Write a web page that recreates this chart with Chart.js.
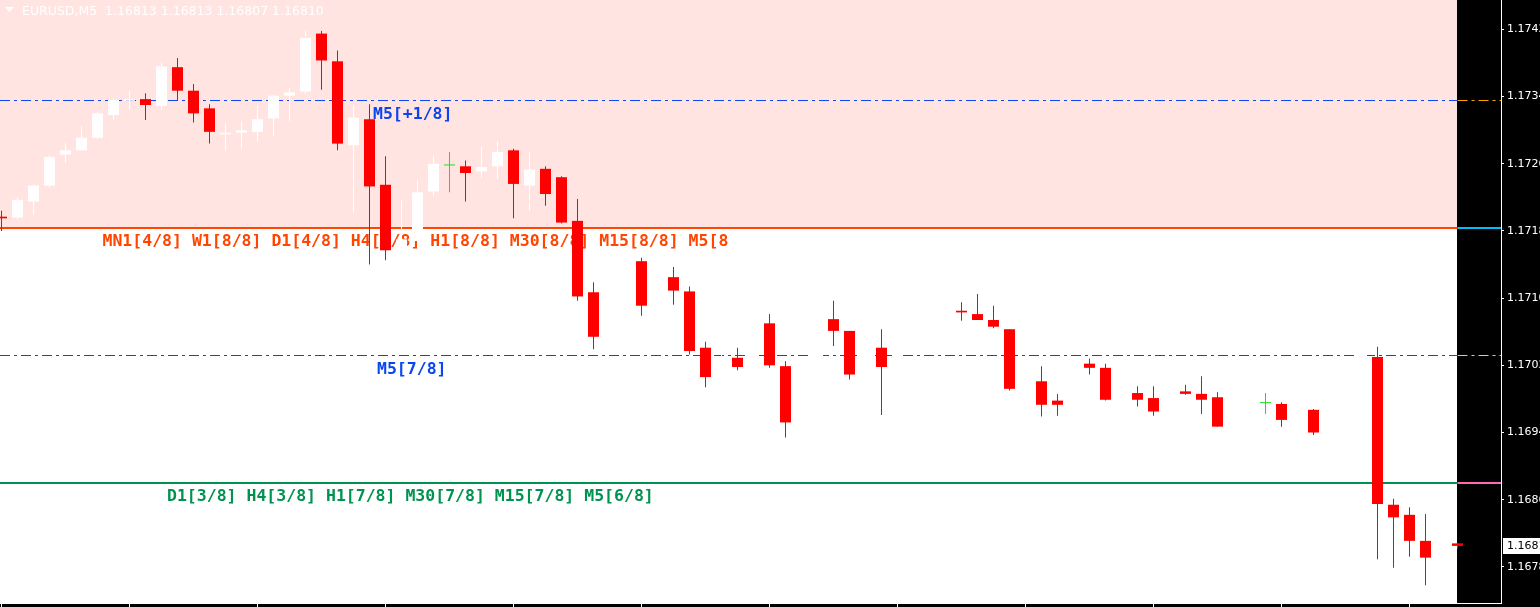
<!DOCTYPE html>
<html>
<head>
<meta charset="utf-8">
<title>EURUSD,M5</title>
<script src="https://cdn.jsdelivr.net/npm/chart.js@4.4.1/dist/chart.umd.min.js"></script>
<style>
  html, body { margin: 0; padding: 0; background: #ffffff; overflow: hidden; }
  #wrap { position: relative; width: 1540px; height: 607px; }
</style>
</head>
<body>
<div id="wrap"><canvas id="chart"></canvas></div>
<script>
const SYMBOL = "EURUSD,M5";

// M5 bars, oldest first
const barOpen = [
  1.17202, 1.17201, 1.17220, 1.17239, 1.17276, 1.17281, 1.17296, 1.17323, 1.17340, 1.17342,
  1.17334, 1.17380, 1.17352, 1.17331, 1.17300, 1.17302, 1.17303, 1.17319, 1.17346, 1.17351,
  1.17420, 1.17387, 1.17287, 1.17318, 1.17240, 1.17166, 1.17173, 1.17232, 1.17263, 1.17262,
  1.17256, 1.17262, 1.17281, 1.17239, 1.17259, 1.17249, 1.17197, 1.17112, 1.17060, 1.17103,
  1.17149, 1.17097, 1.17130, 1.17113, 1.17046, 1.17012, 1.17034, 1.17024, 1.17075, 1.17024,
  1.16958, 1.17008, 1.17080, 1.17066, 1.17015, 1.17046, 1.17023, 1.17043, 1.17058, 1.17077,
  1.17090, 1.17086, 1.17079, 1.17068, 1.16998, 1.17006, 1.16983, 1.16979, 1.17027, 1.17022,
  1.16984, 1.16992, 1.16986, 1.16971, 1.16994, 1.16991, 1.16987, 1.16953, 1.16972, 1.16980,
  1.16979, 1.16960, 1.16972, 1.16944, 1.16972, 1.17002, 1.17035, 1.16859, 1.16847, 1.16816,
  1.16796, 1.16813
];
const barHigh = [
  1.17209, 1.17225, 1.17240, 1.17275, 1.17290, 1.17310, 1.17327, 1.17343, 1.17352, 1.17349,
  1.17386, 1.17391, 1.17360, 1.17336, 1.17313, 1.17316, 1.17335, 1.17347, 1.17355, 1.17423,
  1.17423, 1.17400, 1.17335, 1.17336, 1.17274, 1.17221, 1.17246, 1.17274, 1.17279, 1.17269,
  1.17286, 1.17292, 1.17283, 1.17279, 1.17262, 1.17250, 1.17223, 1.17124, 1.17109, 1.17153,
  1.17153, 1.17136, 1.17142, 1.17119, 1.17053, 1.17041, 1.17046, 1.17081, 1.17086, 1.17030,
  1.17013, 1.17085, 1.17102, 1.17066, 1.17055, 1.17068, 1.17049, 1.17064, 1.17084, 1.17097,
  1.17100, 1.17110, 1.17096, 1.17068, 1.17012, 1.17024, 1.16991, 1.17031, 1.17033, 1.17027,
  1.16997, 1.17000, 1.17000, 1.16998, 1.17002, 1.17012, 1.16993, 1.16977, 1.16985, 1.16992,
  1.16981, 1.16977, 1.16973, 1.16978, 1.17008, 1.17048, 1.17047, 1.16866, 1.16856, 1.16848,
  1.16817, 1.16813
];
const barLow = [
  1.17185, 1.17199, 1.17205, 1.17237, 1.17266, 1.17281, 1.17295, 1.17317, 1.17329, 1.17317,
  1.17329, 1.17341, 1.17314, 1.17289, 1.17281, 1.17283, 1.17291, 1.17298, 1.17316, 1.17348,
  1.17353, 1.17281, 1.17207, 1.17145, 1.17150, 1.17162, 1.17167, 1.17227, 1.17231, 1.17220,
  1.17248, 1.17247, 1.17200, 1.17209, 1.17215, 1.17194, 1.17102, 1.17044, 1.17049, 1.17097,
  1.17084, 1.17091, 1.17097, 1.17038, 1.16999, 1.17008, 1.17019, 1.17019, 1.17022, 1.16939,
  1.16950, 1.17003, 1.17048, 1.17008, 1.17010, 1.16966, 1.17017, 1.17039, 1.17053, 1.17072,
  1.17078, 1.17079, 1.17069, 1.16995, 1.16993, 1.16964, 1.16965, 1.16974, 1.17014, 1.16983,
  1.16979, 1.16976, 1.16965, 1.16967, 1.16990, 1.16967, 1.16952, 1.16948, 1.16967, 1.16967,
  1.16952, 1.16955, 1.16942, 1.16940, 1.16967, 1.16997, 1.16794, 1.16784, 1.16797, 1.16763,
  1.16791, 1.16807
];
const barClose = [
  1.17200, 1.17222, 1.17239, 1.17273, 1.17281, 1.17296, 1.17325, 1.17341, 1.17342, 1.17335,
  1.17381, 1.17352, 1.17325, 1.17303, 1.17302, 1.17305, 1.17318, 1.17346, 1.17350, 1.17415,
  1.17388, 1.17289, 1.17320, 1.17238, 1.17162, 1.17175, 1.17231, 1.17265, 1.17263, 1.17254,
  1.17261, 1.17279, 1.17241, 1.17258, 1.17229, 1.17195, 1.17107, 1.17059, 1.17103, 1.17148,
  1.17096, 1.17130, 1.17114, 1.17042, 1.17011, 1.17034, 1.17023, 1.17075, 1.17025, 1.16957,
  1.17008, 1.17079, 1.17066, 1.17014, 1.17046, 1.17023, 1.17043, 1.17058, 1.17077, 1.17090,
  1.17088, 1.17079, 1.17071, 1.16997, 1.17006, 1.16978, 1.16978, 1.17027, 1.17022, 1.16984,
  1.16992, 1.16984, 1.16970, 1.16994, 1.16991, 1.16984, 1.16952, 1.16972, 1.16980, 1.16980,
  1.16960, 1.16972, 1.16945, 1.16972, 1.17002, 1.17043, 1.16860, 1.16844, 1.16816, 1.16796,
  1.16813, 1.16810
];

// price scale labels and time separators (bar index)
const priceTicks = [1.17425, 1.17345, 1.17265, 1.17185, 1.17105, 1.17025, 1.16945, 1.16865, 1.16785];
const timeTicks = [0, 8, 16, 24, 32, 40, 48, 56, 64, 72, 80, 88];

// Murrey levels of the M5 frame and their labels
const levelValues = [1.173403, 1.171885, 1.170367, 1.168849];
const levelLabels = [
  "M5[+1/8]",
  "MN1[4/8] W1[8/8] D1[4/8] H4[8/8] H1[8/8] M30[8/8] M15[8/8] M5[8",
  "M5[7/8]",
  "D1[3/8] H4[3/8] H1[7/8] M30[7/8] M15[7/8] M5[6/8]"
];

// styles
const COLOR_UP = "#ffffff";
const COLOR_DOWN = "#ff0000";
const COLOR_DOJI = "#1fdf1f";
const PINK = "#ffe4e1";
const DASH_DOT = [10, 4, 3, 4];
const levelStyle = [
  { left: "#0a46f0", right: "#ffa500", width: 1, dash: DASH_DOT, textX: 373 },
  { left: "#ff4500", right: "#00bfff", width: 2, dash: [], textX: 102.5 },
  { left: "#0a46f0", right: "#ffd700", width: 1, dash: DASH_DOT, textX: 377 },
  { left: "#00924f", right: "#ff69b4", width: 2, dash: [], textX: 167 }
];

const lastIndex = barClose.length - 1;
const xMin = -0.09375;
const xMax = 93.71875;

const candleColors = barClose.map((c, i) => {
  if (c > barOpen[i]) return COLOR_UP;
  if (c < barOpen[i]) return COLOR_DOWN;
  return COLOR_DOJI;
});

const levelDatasets = [];
levelValues.forEach((lv, i) => {
  const st = levelStyle[i];
  levelDatasets.push({
    type: "line", order: 3,
    data: [{ x: xMin, y: lv }, { x: lastIndex, y: lv }],
    borderColor: st.left, borderWidth: st.width, borderDash: st.dash,
    pointRadius: 0, fill: false
  });
  levelDatasets.push({
    type: "line", order: 3,
    data: [{ x: lastIndex, y: lv }, { x: xMax, y: lv }],
    borderColor: st.right, borderWidth: st.width, borderDash: st.dash,
    pointRadius: 0, fill: false
  });
});

const chartDecor = {
  id: "chartDecor",
  beforeDraw(chart) {
    const { ctx, chartArea, scales } = chart;
    const shiftX = Math.floor(scales.x.getPixelForValue(lastIndex));
    const zoneBottom = Math.round(scales.y.getPixelForValue(levelValues[1]));
    ctx.save();
    ctx.fillStyle = "#ffffff";
    ctx.fillRect(0, 0, chart.width, chart.height);
    ctx.fillStyle = PINK;
    ctx.fillRect(chartArea.left, 0, shiftX - chartArea.left, zoneBottom);
    ctx.fillStyle = "#000000";
    ctx.fillRect(shiftX, 0, chart.width - shiftX, chart.height);
    ctx.fillRect(0, chartArea.bottom + 1, chart.width, chart.height - chartArea.bottom);
    ctx.restore();
  },
  beforeDatasetsDraw(chart) {
    const { ctx, scales } = chart;
    ctx.save();
    // title
    ctx.fillStyle = "#ffffff";
    ctx.beginPath();
    ctx.moveTo(5, 7);
    ctx.lineTo(14, 7);
    ctx.lineTo(9.5, 12);
    ctx.closePath();
    ctx.fill();
    ctx.font = '12.5px "DejaVu Sans"';
    ctx.textBaseline = "alphabetic";
    const ohlc = [barOpen[lastIndex], barHigh[lastIndex], barLow[lastIndex], barClose[lastIndex]]
      .map((v) => v.toFixed(5)).join(" ");
    ctx.fillText(SYMBOL + "  " + ohlc, 22, 15);

    // level labels
    ctx.font = 'bold 16.5px "DejaVu Sans Mono"';
    levelLabels.forEach((txt, i) => {
      const yy = scales.y.getPixelForValue(levelValues[i]);
      ctx.fillStyle = levelStyle[i].left;
      ctx.fillText(txt, levelStyle[i].textX, yy + 18);
    });
    ctx.restore();
  },
  afterDraw(chart) {
    const { ctx, chartArea, scales } = chart;
    const last = barClose[lastIndex];
    const yy = Math.round(scales.y.getPixelForValue(last));
    ctx.save();
    ctx.fillStyle = "#ffffff";
    ctx.fillRect(chartArea.right + 2, yy - 8, chart.width - chartArea.right - 2, 16);
    ctx.fillStyle = "#000000";
    ctx.font = '11px "DejaVu Sans"';
    ctx.textBaseline = "middle";
    ctx.fillText(last.toFixed(5), chartArea.right + 6, yy + 0.5);
    ctx.restore();
  }
};

new Chart(document.getElementById("chart"), {
  type: "bar",
  data: {
    datasets: [
      ...levelDatasets,
      {
        type: "bar", order: 2,
        data: barHigh.map((h, i) => ({ x: i, y: [barLow[i], h] })),
        backgroundColor: candleColors,
        barThickness: 1, grouped: false, inflateAmount: 0, borderWidth: 0, minBarLength: 1
      },
      {
        type: "bar", order: 1,
        data: barOpen.map((o, i) => ({ x: i, y: [o, barClose[i]] })),
        backgroundColor: candleColors,
        barThickness: 11, grouped: false, inflateAmount: 0, borderWidth: 0, minBarLength: 1
      }
    ]
  },
  options: {
    responsive: true,
    maintainAspectRatio: false,
    devicePixelRatio: 1,
    animation: false,
    events: [],
    layout: { padding: 0 },
    plugins: {
      legend: { display: false },
      tooltip: { enabled: false }
    },
    scales: {
      x: {
        type: "linear",
        position: "bottom",
        offset: false,
        min: xMin,
        max: xMax,
        afterBuildTicks: (scale) => { scale.ticks = timeTicks.map((v) => ({ value: v })); },
        afterFit: (scale) => {
          scale.height = 4;
          scale.paddingLeft = 0;
          scale.paddingRight = 0;
        },
        ticks: { display: false },
        grid: { offset: false, drawOnChartArea: false, drawTicks: true, tickLength: 4, color: "#ffffff" },
        border: { color: "#ffffff", width: 1 }
      },
      y: {
        type: "linear",
        position: "right",
        min: 1.16742,
        max: 1.17460,
        afterBuildTicks: (scale) => { scale.ticks = priceTicks.map((v) => ({ value: v })); },
        afterFit: (scale) => {
          scale.width = 39;
          scale.paddingTop = 0;
          scale.paddingBottom = 0;
        },
        ticks: {
          color: "#ffffff",
          padding: 3,
          autoSkip: false,
          font: { family: "DejaVu Sans", size: 11 },
          callback: (v) => Number(v).toFixed(5)
        },
        grid: { drawOnChartArea: false, drawTicks: true, tickLength: 3, color: "#ffffff" },
        border: { color: "#ffffff", width: 1 }
      }
    }
  },
  plugins: [chartDecor]
});
</script>
</body>
</html>
